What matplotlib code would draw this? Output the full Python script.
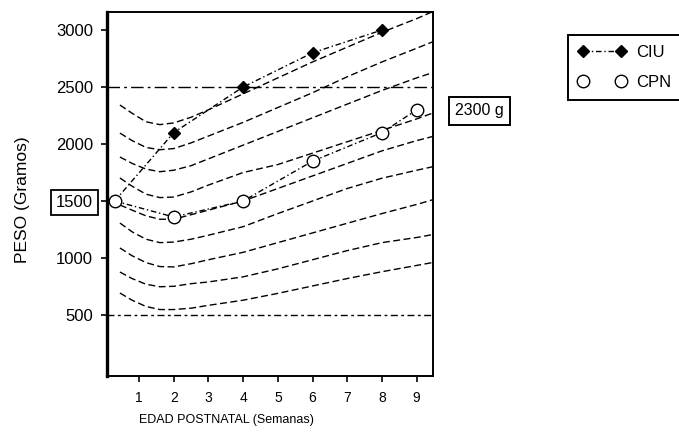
"""Peso postnatal: curvas de referencia con grupos CIU y CPN."""
import matplotlib
matplotlib.use("Agg")
import matplotlib.pyplot as plt
from matplotlib.lines import Line2D

plt.rcParams['font.family'] = ['Liberation Sans', 'DejaVu Sans']

# Semanas donde se leyeron las curvas de referencia
ref_weeks = [0.45, 0.8, 1.2, 1.6, 2.0, 2.5, 3.0, 4.0, 5.0, 6.0, 7.0, 8.0, 9.0, 9.45]

# Curvas de referencia (gramos), de arriba hacia abajo
ref_a = [2342, 2270, 2195, 2170, 2185, 2235, 2300, 2440, 2580, 2720, 2850, 2980, 3100, 3160]
ref_b = [2096, 2030, 1970, 1950, 1960, 2010, 2070, 2190, 2320, 2450, 2590, 2720, 2840, 2895]
ref_c = [1886, 1830, 1780, 1757, 1770, 1810, 1870, 1990, 2110, 2230, 2350, 2470, 2580, 2625]
ref_d = [1702, 1630, 1560, 1530, 1535, 1580, 1640, 1750, 1820, 1920, 2020, 2120, 2220, 2270]
ref_e = [1465, 1420, 1370, 1340, 1340, 1380, 1420, 1500, 1610, 1720, 1830, 1940, 2030, 2065]
ref_f = [1307, 1230, 1165, 1135, 1140, 1165, 1200, 1275, 1390, 1500, 1610, 1700, 1770, 1800]
ref_g = [1088, 1020, 960, 925, 922, 950, 985, 1050, 1135, 1220, 1305, 1390, 1470, 1510]
ref_h = [877, 820, 770, 748, 752, 775, 790, 835, 905, 985, 1065, 1135, 1180, 1205]
ref_i = [693, 630, 575, 548, 548, 560, 585, 630, 690, 755, 820, 880, 935, 960]
ref_curves = [ref_a, ref_b, ref_c, ref_d, ref_e, ref_f, ref_g, ref_h, ref_i]

# Grupo CIU
ciu_weeks = [0.3, 2, 4, 6, 8]
ciu_weight = [1500, 2100, 2500, 2800, 3000]

# Grupo CPN
cpn_weeks = [0.3, 2, 4, 6, 8, 9]
cpn_weight = [1500, 1360, 1500, 1850, 2100, 2300]

# Lineas horizontales de referencia
hlines = [2500, 500]

x_ticks = [1, 2, 3, 4, 5, 6, 7, 8, 9]
y_ticks = [500, 1000, 1500, 2000, 2500, 3000]
y_tick_labels = ['500', '1000', '1500', '2000', '2500', '3000']

fig = plt.figure(figsize=(6.79, 4.33), dpi=100, facecolor='white')
ax = fig.add_axes([0.1576, 0.1316, 0.4801, 0.8407])

for curve in ref_curves:
    ax.plot(ref_weeks, curve, color='black', linewidth=1.0,
            linestyle=(0, (5, 2.5)))

ax.axhline(hlines[0], color='black', linewidth=1.0, linestyle=(0, (9, 3, 2, 3)))
ax.axhline(hlines[1], color='black', linewidth=1.0, linestyle=(0, (5, 2.5, 2, 2.5)))

ax.plot(ciu_weeks, ciu_weight, color='black', linewidth=1.0,
        linestyle=(0, (4, 2, 1, 2)), marker='D', markersize=6,
        markevery=[1, 2, 3, 4], zorder=4)
ax.plot(cpn_weeks, cpn_weight, color='black', linewidth=1.0,
        linestyle=(0, (4, 2, 1, 2)), marker='o', markersize=9,
        markerfacecolor='white', markeredgewidth=1.0, zorder=5, clip_on=False)

ax.set_xlim(0.078, 9.47)
ax.set_ylim(-35, 3158)

ax.set_xticks(x_ticks)
ax.set_xticklabels([str(t) for t in x_ticks], fontsize=10)
ax.set_yticks(y_ticks)
labels = ax.set_yticklabels(y_tick_labels, fontsize=12)
labels[2].set_bbox(dict(boxstyle='square,pad=0.3', facecolor='white',
                        edgecolor='black', linewidth=1.3))
ax.tick_params(axis='x', direction='out', length=4, width=1.2, pad=7)
ax.tick_params(axis='y', direction='out', length=4, width=1.2, pad=6)

ax.set_xlabel('EDAD POSTNATAL (Semanas)', fontsize=9)
ax.xaxis.set_label_coords(0.365, -0.105)
ax.set_ylabel('PESO (Gramos)', fontsize=12.5)
ax.yaxis.set_label_coords(-0.235, 0.484)

for side in ['top', 'right', 'bottom']:
    ax.spines[side].set_linewidth(1.4)
ax.spines['left'].set_linewidth(2.4)

# Etiqueta del peso final CPN
fig.text(455 / 679, 1 - 111 / 433, '2300 g', fontsize=11.5, ha='left', va='center',
         bbox=dict(boxstyle='square,pad=0.4', facecolor='white',
                   edgecolor='black', linewidth=1.4))

legend_handles = [
    Line2D([], [], color='black', linewidth=1.0, linestyle=(0, (4, 2, 1, 2)),
           marker='D', markersize=6),
    Line2D([], [], color='black', linestyle='none', marker='o', markersize=9,
           markerfacecolor='white', markeredgewidth=1.0),
]
leg = fig.legend(legend_handles, ['CIU', 'CPN'], loc='upper left',
                 bbox_to_anchor=(568 / 679, 1 - 35 / 433), borderaxespad=0,
                 numpoints=2, handlelength=2.9, fontsize=12, labelspacing=0.9,
                 handletextpad=0.6, borderpad=0.6, fancybox=False,
                 framealpha=1, edgecolor='black')
leg.get_frame().set_linewidth(1.4)

fig.savefig('out.png', dpi=100, facecolor='white')
plt.close(fig)
